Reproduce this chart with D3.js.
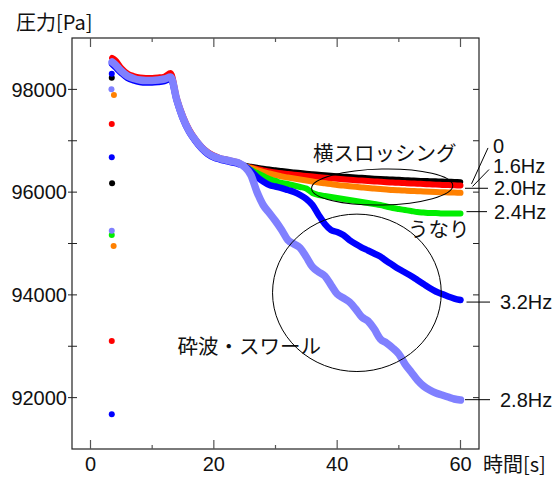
<!DOCTYPE html>
<html><head><meta charset="utf-8">
<script src="https://cdn.jsdelivr.net/npm/d3@7"></script>
<style>
html,body{margin:0;padding:0;background:#fff;}
svg{display:block;}
</style>
</head><body>
<svg id="chart" width="560" height="478"></svg>
<script>
// ---- data ----
const prefixTime = [3.5,4,5,6,7,8,9,10,11,12,13,14,15,16,17,18,19,20,21,22,23,24];
const tailTime = [25,26,27,28,29,30,31,32,33,34,35,36,37,38,39,40,41,42,43,44,45,46,47,48,49,50,51,52,53,54,55,56,57,58,59,60];

const basePrefix = [98533,98484,98358,98260,98212,98182,98173,98173,98182,98202,98241,97793,97443,97190,97015,96869,96762,96693,96654,96625,96596,96567];
const redPrefix  = [98611,98572,98416,98309,98260,98231,98221,98221,98231,98251,98319,97832,97482,97219,97034,96888,96781,96713,96664,96635,96606,96577];
const bluePrefix = [98494,98436,98319,98221,98173,98144,98134,98134,98144,98163,98202,97774,97423,97170,96995,96849,96742,96674,96635,96606,96577,96547];

const blackTail  = [96518,96499,96479,96460,96444,96431,96415,96401,96388,96376,96364,96353,96343,96333,96324,96314,96306,96298,96290,96283,96275,96267,96261,96255,96250,96244,96238,96232,96226,96222,96218,96215,96211,96207,96203,96199];
const redTail    = [96508,96479,96450,96421,96401,96382,96366,96353,96339,96327,96314,96302,96290,96279,96269,96259,96250,96240,96232,96224,96217,96209,96201,96193,96187,96181,96176,96170,96164,96158,96152,96146,96141,96137,96133,96129];
const orangeTail = [96508,96470,96431,96392,96362,96333,96304,96285,96265,96246,96226,96207,96187,96174,96158,96139,96127,96115,96104,96092,96080,96070,96061,96051,96041,96035,96030,96024,96018,96012,96006,96002,95998,95995,95991,95987];
const greenTail  = [96508,96431,96372,96314,96255,96217,96178,96158,96129,96100,96070,95983,95944,95925,95905,95886,95866,95847,95827,95808,95788,95769,95749,95720,95691,95671,95652,95633,95613,95603,95594,95594,95584,95584,95584,95584];
const blueTail   = [96508,96411,96294,96207,96139,96109,96080,96041,96002,95944,95866,95749,95555,95380,95263,95224,95165,95068,94990,94922,94864,94805,94747,94659,94581,94504,94435,94367,94289,94212,94134,94066,94017,93968,93929,93900];
const lightTail  = [96489,96333,96002,95749,95594,95438,95263,95068,94990,94912,94737,94543,94445,94367,94192,94017,93939,93861,93725,93569,93491,93336,93141,93063,92966,92849,92654,92499,92343,92226,92148,92090,92051,92012,91973,91954];

// isolated early samples (x, value)
const blackDots  = [[3.45,98227],[3.5,96172]];
const redDots    = [[3.45,97326],[3.45,93102]];
const orangeDots = [[3.8,97890],[3.75,94951]];
const greenDots  = [[3.45,95165]];
const blueDots   = [[3.45,98305],[3.45,96678],[3.45,91676]];
const lightDots  = [[3.4,98001],[3.45,95249]];

const seriesNames = ["0","1.6Hz","2.0Hz","2.4Hz","3.2Hz","2.8Hz"];
const seriesColors = ["#000000","#ff0000","#ff8000","#00ee00","#0000ff","#8080ff"];
const labelValues = [96910, 96510, 96075, 95620, 93860, 91960];

const xTicks = [0,20,40,60];
const yTicks = [92000,94000,96000,98000];

// ---- build ----
const svg = d3.select("#chart");
const L = 72, R = 479, T = 38, B = 449;
const x = d3.scaleLinear().domain([-3, 63]).range([L, R]);
const y = d3.scaleLinear().domain([91000, 99000]).range([B, T]);

const zip = (t, v) => t.map((d, i) => [d, v[i]]);
const series = [
  {pts: zip(prefixTime.concat(tailTime), basePrefix.concat(blackTail)), dots: blackDots, w: 5.5},
  {pts: zip(prefixTime.concat(tailTime), redPrefix.concat(redTail)), dots: redDots, w: 6},
  {pts: zip(prefixTime.concat(tailTime), basePrefix.concat(orangeTail)), dots: orangeDots, w: 6},
  {pts: zip(prefixTime.concat(tailTime), basePrefix.concat(greenTail)), dots: greenDots, w: 6},
  {pts: zip(prefixTime.concat(tailTime), bluePrefix.concat(blueTail)), dots: blueDots, w: 6.5},
  {pts: zip(prefixTime.concat(tailTime), basePrefix.concat(lightTail)), dots: lightDots, w: 7.5}
];
series.forEach((s, i) => { s.color = seriesColors[i]; s.name = seriesNames[i]; });

const line = d3.line().x(d => x(d[0])).y(d => y(d[1])).curve(d3.curveMonotoneX);

const g = svg.append("g");
series.forEach(s => {
  g.append("path").datum(s.pts).attr("d", line)
    .attr("fill", "none").attr("stroke", s.color).attr("stroke-width", s.w)
    .attr("stroke-linecap", "round").attr("stroke-linejoin", "round");
});
series.forEach(s => {
  g.selectAll(null).data(s.dots).enter().append("circle")
    .attr("cx", d => x(d[0])).attr("cy", d => y(d[1])).attr("r", 3)
    .attr("fill", s.color);
});

// ---- axes ----
const axisColor = "#222";
const fontNum = "'Liberation Sans', Arial, sans-serif";
const fontJP = "'Noto Sans CJK JP', sans-serif";

const ax = svg.append("g");
ax.append("rect").attr("x", L).attr("y", T).attr("width", R - L).attr("height", B - T)
  .attr("fill", "none").attr("stroke", axisColor).attr("stroke-width", 1.2);

const xMinor = [10,30,50];
[...xTicks.map(v => [v, 9]), ...xMinor.map(v => [v, 4])].forEach(([v, len]) => {
  ax.append("line").attr("x1", x(v)).attr("x2", x(v)).attr("y1", B).attr("y2", B - len)
    .attr("stroke", "#555").attr("stroke-width", 1.2);
  ax.append("line").attr("x1", x(v)).attr("x2", x(v)).attr("y1", T).attr("y2", T + len)
    .attr("stroke", "#555").attr("stroke-width", 1.2);
});
const yAll = [92000,93000,94000,95000,96000,97000,98000];
yAll.forEach(v => {
  ax.append("line").attr("x1", L - 4).attr("x2", L + 5).attr("y1", y(v)).attr("y2", y(v))
    .attr("stroke", axisColor).attr("stroke-width", 1);
  ax.append("line").attr("x1", R - 6).attr("x2", R).attr("y1", y(v)).attr("y2", y(v))
    .attr("stroke", axisColor).attr("stroke-width", 1);
});

ax.selectAll(".xl").data(xTicks).enter().append("text")
  .attr("x", d => x(d)).attr("y", 471).attr("text-anchor", "middle")
  .attr("font-family", fontNum).attr("font-size", 20).attr("fill", "#111").text(d => d);
ax.selectAll(".yl").data(yTicks).enter().append("text")
  .attr("x", 67).attr("y", d => y(d)).attr("dy", "0.36em").attr("text-anchor", "end")
  .attr("font-family", fontNum).attr("font-size", 20).attr("fill", "#111").text(d => d);

svg.append("text").attr("x", 16).attr("y", 30).attr("font-family", fontJP)
  .attr("font-size", 20).attr("fill", "#111").text("圧力[Pa]");
svg.append("text").attr("x", 483).attr("y", 472).attr("font-family", fontJP)
  .attr("font-size", 20).attr("fill", "#111").text("時間[s]");

// ---- series labels & leaders ----
const endX = x(60);
const lab = svg.append("g");
// slanted leaders for 0 and 1.6Hz
lab.append("line").attr("x1", endX + 11).attr("y1", y(96160)).attr("x2", endX + 27.5).attr("y2", y(96860)).attr("stroke", "#000");
lab.append("line").attr("x1", endX + 12).attr("y1", y(96110)).attr("x2", endX + 28.5).attr("y2", y(96440)).attr("stroke", "#000");
// horizontal leaders
[[2, 4.5, 27.5],[3, 6, 26.5],[4, 6, 29.5],[5, 4.5, 29.5]].forEach(([i, a, b]) => {
  lab.append("line").attr("x1", endX + a).attr("x2", endX + b)
    .attr("y1", y(labelValues[i])).attr("y2", y(labelValues[i])).attr("stroke", "#000");
});
const labelDx = [32.5, 32.5, 33.5, 33.5, 39.5, 39.5];
lab.selectAll("text").data(seriesNames).enter().append("text")
  .attr("x", (d, i) => endX + labelDx[i]).attr("y", (d, i) => y(labelValues[i]))
  .attr("dy", "0.36em").attr("font-family", fontNum).attr("font-size", 20).attr("fill", "#111")
  .text(d => d);

// ---- annotations ----
const annText = ["横スロッシング", "うなり", "砕波・スワール"];
const annX = [36.1, 51.5, 14.1];
const annY = [96600, 95120, 92840];
svg.selectAll(".ann").data(annText).enter().append("text")
  .attr("x", (d, i) => x(annX[i])).attr("y", (d, i) => y(annY[i]))
  .attr("font-family", fontJP).attr("font-size", 20.5).attr("fill", "#111").text(d => d);

const ellipses = [
  {cx: 47.3, cy: 96100, rx: 11.45, ry: 350, rot: -1.2},
  {cx: 43.2, cy: 94040, rx: 13.68, ry: 1532, rot: 0}
];
ellipses.forEach(e => {
  const cx = x(e.cx), cy = y(e.cy);
  svg.append("ellipse").attr("cx", cx).attr("cy", cy)
    .attr("rx", x(e.cx + e.rx) - cx).attr("ry", cy - y(e.cy + e.ry))
    .attr("transform", `rotate(${e.rot},${cx},${cy})`)
    .attr("fill", "none").attr("stroke", "#000").attr("stroke-width", 1);
});
</script>
</body></html>
